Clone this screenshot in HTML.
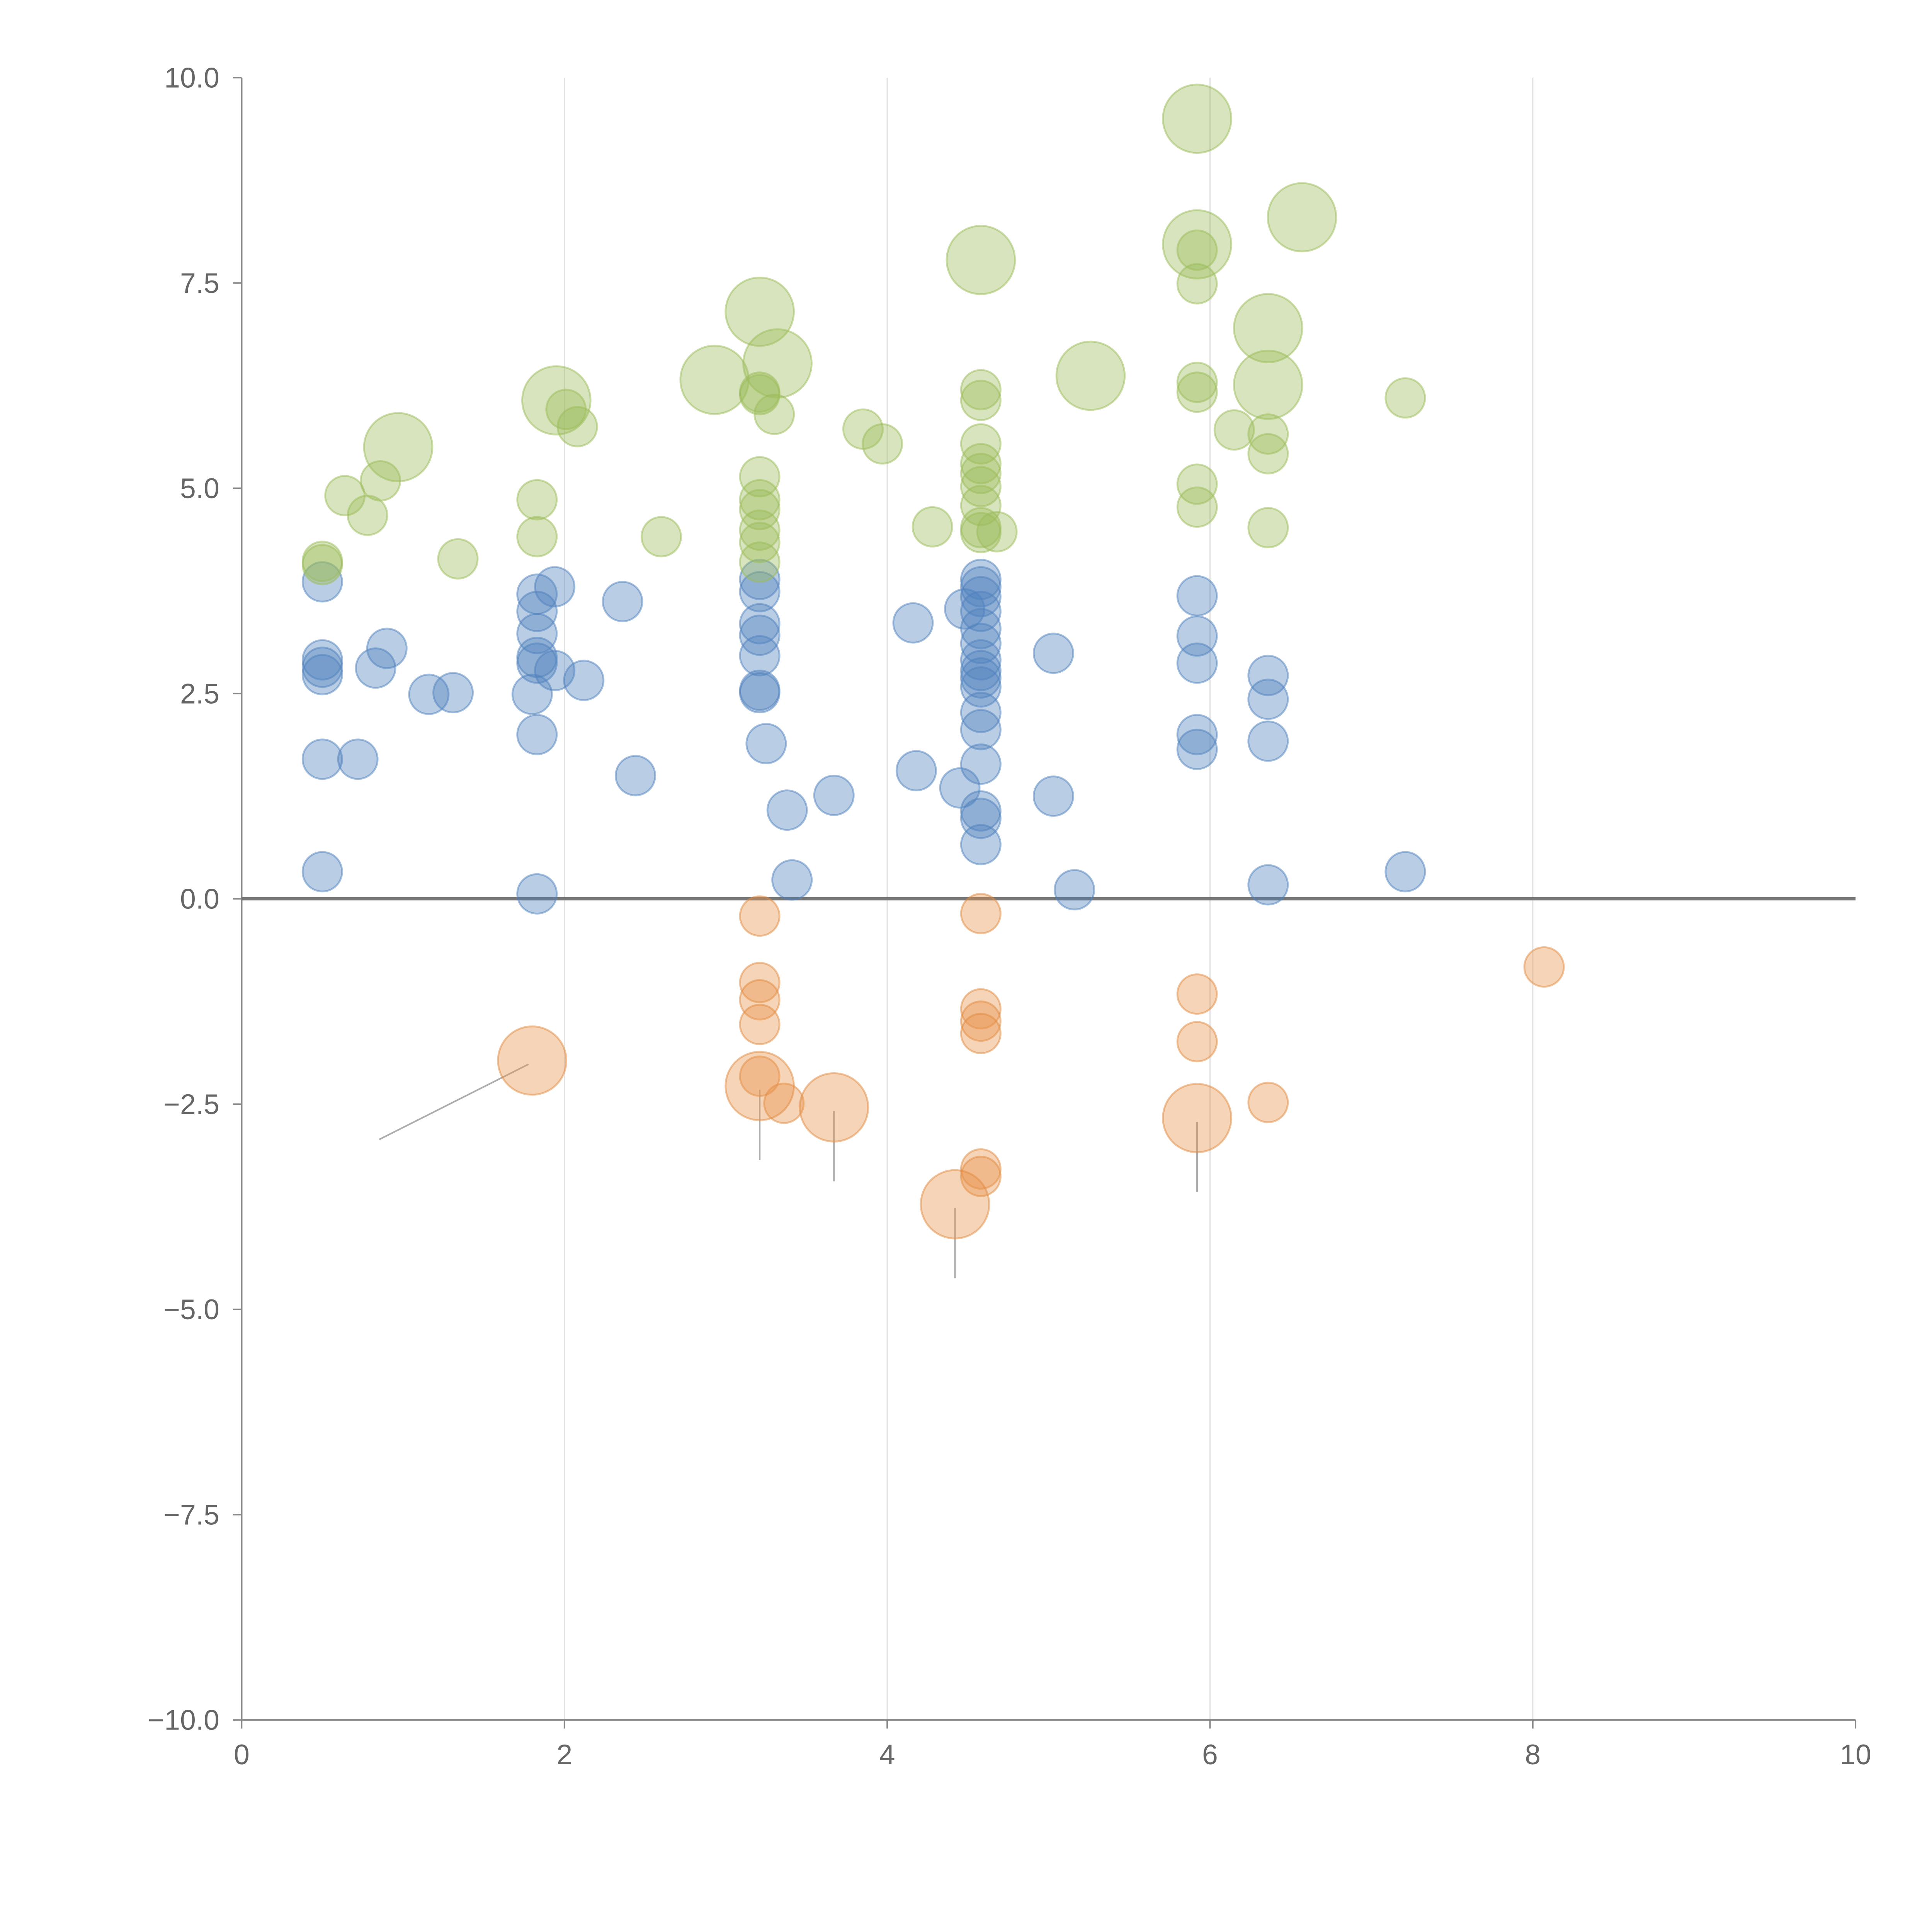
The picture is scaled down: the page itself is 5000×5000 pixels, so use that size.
<!DOCTYPE html>
<html><head><meta charset="utf-8"><style>
html,body{margin:0;padding:0;background:#fff;}
svg{display:block;}
text{font-family:"Liberation Sans",Arial,sans-serif;fill:#666;font-size:23px;}
</style></head><body>
<svg id="chart" width="5000" height="5000" viewBox="0 0 1567 1567" xmlns="http://www.w3.org/2000/svg">
<g id="grid"></g>
<g id="axes"></g>
<g id="lines"></g>
<g id="marks"></g>
</svg>
<script>
const xTicks=[0,2,4,6,8,10];
const yTicks=[-10,-7.5,-5,-2.5,0,2.5,5,7.5,10];
const yTickLabels=["\u221210.0","\u22127.5","\u22125.0","\u22122.5","0.0","2.5","5.0","7.5","10.0"];
const blueX=[0.50,0.50,0.50,0.50,0.50,0.50,0.72,0.83,0.90,1.16,1.31,1.83,1.83,1.83,1.83,1.83,1.80,1.83,1.83,1.94,1.94,2.12,2.36,2.44,3.21,3.21,3.21,3.21,3.21,3.21,3.21,3.25,3.38,3.41,3.67,4.16,4.18,4.45,4.48,4.58,4.58,4.58,4.58,4.58,4.58,4.58,4.58,4.58,4.58,4.58,4.58,4.58,4.58,4.58,4.58,5.03,5.03,5.16,5.92,5.92,5.92,5.92,5.92,6.36,6.36,6.36,6.36,7.21];
const blueY=[3.86,2.91,2.82,2.73,1.70,0.33,1.70,2.81,3.05,2.49,2.51,3.71,3.50,3.23,2.94,2.87,2.49,2.00,0.06,3.80,2.78,2.66,3.62,1.50,3.89,3.74,3.35,3.21,2.96,2.54,2.51,1.89,1.08,0.23,1.26,3.36,1.56,1.35,3.53,3.89,3.80,3.68,3.50,3.29,3.11,2.91,2.78,2.69,2.58,2.27,2.06,1.64,1.07,0.98,0.66,2.99,1.25,0.11,3.69,3.20,2.87,2.00,1.82,2.72,2.43,1.92,0.17,0.33];
const greenX=[0.50,0.50,0.64,0.78,0.86,1.34,1.83,1.83,2.01,2.08,2.60,3.21,3.21,3.21,3.21,3.21,3.21,3.21,3.21,3.30,3.85,3.97,4.28,4.58,4.58,4.58,4.58,4.58,4.58,4.58,4.58,4.58,4.68,5.92,5.92,5.92,5.92,5.92,5.92,6.15,6.36,6.36,6.36,7.21,
0.97,1.95,2.93,3.21,3.32,4.58,5.26,5.92,5.92,6.36,6.36,6.57];
const greenY=[4.11,4.07,4.91,4.67,5.09,4.14,4.86,4.41,5.96,5.75,4.41,5.14,4.86,4.74,4.49,4.34,4.10,6.14,6.17,5.90,5.72,5.54,4.53,6.20,6.07,5.54,5.30,5.18,5.02,4.79,4.52,4.46,4.47,7.90,7.49,6.29,6.17,5.05,4.77,5.71,5.66,5.42,4.52,6.10,
5.50,6.07,6.32,7.15,6.52,7.78,6.37,9.50,7.97,6.95,6.26,8.30];
const greenSize=[1,1,1,1,1,1,1,1,1,1,1,1,1,1,1,1,1,1,1,1,1,1,1,1,1,1,1,1,1,1,1,1,1,1,1,1,1,1,1,1,1,1,1,1,3,3,3,3,3,3,3,3,3,3,3,3];
const orangeX=[3.21,3.21,3.21,3.21,3.21,3.36,4.58,4.58,4.58,4.58,4.58,4.58,5.92,5.92,6.36,8.07,1.80,3.21,3.67,4.42,5.92];
const orangeY=[-0.21,-1.02,-1.23,-1.53,-2.16,-2.49,-0.18,-1.34,-1.49,-1.64,-3.29,-3.38,-1.16,-1.74,-2.48,-0.83,-1.97,-2.28,-2.54,-3.72,-2.67];
const orangeSize=[1,1,1,1,1,1,1,1,1,1,1,1,1,1,1,1,3,3,3,3,3];
const leaderDX=[-1,0,0,0,0];

const NS="http://www.w3.org/2000/svg";
const X0=196,X1=1505,Y0=1395,Y1=63;
const sx=v=>X0+(v-0)/(10-0)*(X1-X0);
const sy=v=>Y0-(v+10)/20*(Y0-Y1);
function mk(tag,attrs,parent){const e=document.createElementNS(NS,tag);for(const k in attrs)e.setAttribute(k,attrs[k]);parent.appendChild(e);return e;}
const grid=document.getElementById('grid'),axes=document.getElementById('axes'),marks=document.getElementById('marks'),lines=document.getElementById('lines');
xTicks.forEach((t,i)=>{
  if(t>0&&t<10){const g=mk('line',{x1:sx(t),x2:sx(t),y1:Y1,y2:Y0,stroke:'#e2e2e2','stroke-width':1},grid);
  
  }
  const tk=mk('line',{x1:sx(t),x2:sx(t),y1:Y0,y2:Y0+7,stroke:'#888','stroke-width':1.2},axes);
  
  
  const tx=mk('text',{x:sx(t),y:Y0+36,'text-anchor':'middle'},axes);tx.textContent=String(t);
  
  
});
yTicks.forEach((t,i)=>{
  const tk=mk('line',{x1:X0-7,x2:X0,y1:sy(t),y2:sy(t),stroke:'#888','stroke-width':1.2},axes);
  
  
  const tx=mk('text',{x:X0-18,y:sy(t)+8,'text-anchor':'end'},axes);tx.textContent=yTickLabels[i];
  
  
});
const ya=mk('line',{x1:X0,x2:X0,y1:Y1,y2:Y0,stroke:'#888','stroke-width':1.3},axes);


const xa=mk('line',{x1:X0,x2:X1,y1:Y0,y2:Y0,stroke:'#888','stroke-width':1.3},axes);


const zl=mk('line',{x1:X0,x2:X1,y1:sy(0),y2:sy(0),stroke:'#777','stroke-width':2.6},axes);



function series(xs,ys,sz,fill,stroke,name){
  xs.forEach((x,i)=>{
    const s=sz?sz[i]:1;
    const c=mk('circle',{cx:sx(x),cy:sy(ys[i]),r:16*Math.sqrt(s),fill:fill,'fill-opacity':0.4,stroke:stroke,'stroke-opacity':0.5,'stroke-width':1.5},marks);
    
    
  });
}
series(blueX,blueY,null,'#4f81bd','#4f81bd','blue-bubble');
series(greenX,greenY,greenSize,'#9bbb59','#9bbb59','green-bubble');
series(orangeX,orangeY,orangeSize,'#e8944a','#e08a40','orange-bubble');

let k=0;
orangeX.forEach((x,i)=>{
  if(orangeSize[i]<3)return;
  const px=sx(x),py=sy(orangeY[i]);
  let x2=px,y2=py+60;
  if(leaderDX[k]<0){x2=px-124;y2=py+64;}
  const l=mk('line',{x1:px-(leaderDX[k]<0?3:0),y1:py+3,x2:x2,y2:y2,stroke:'#999','stroke-width':1.3,'stroke-opacity':0.8},lines);
  
  
  k++;
});
</script>
</body></html>
